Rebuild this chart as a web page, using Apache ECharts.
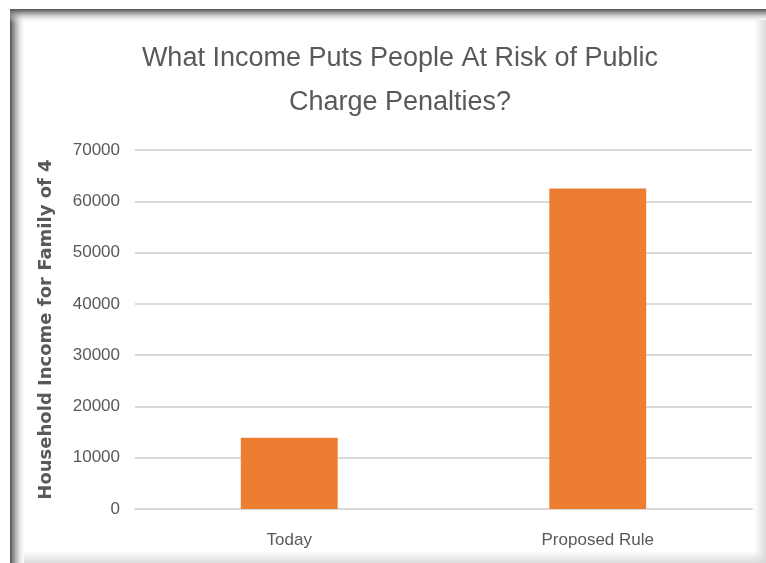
<!DOCTYPE html>
<html>
<head>
<meta charset="utf-8">
<script src="https://cdn.jsdelivr.net/npm/echarts@6/dist/echarts.min.js"></script>
<style>
  html, body { margin: 0; padding: 0; background: #ffffff; }
  #chart { width: 766px; height: 563px; }
</style>
</head>
<body>
<div id="chart"></div>
<script>
// Household income threshold for a family of four
const categories = ['Today', 'Proposed Rule'];
const incomeValues = [13900, 62500];
const yTicks = { min: 0, max: 70000, interval: 10000 };

const titleText = 'What Income Puts People At Risk of Public\nCharge Penalties?';
const yAxisTitle = 'Household Income for Family of 4';

const sans = '"Liberation Sans", Arial, sans-serif';
const textGray = '#595959';

const chart = echarts.init(document.getElementById('chart'), null, { renderer: 'canvas' });

chart.setOption({
  backgroundColor: '#ffffff',
  animation: false,
  title: {
    text: titleText,
    left: 395,
    top: 32,
    textAlign: 'center',
    textStyle: {
      fontFamily: sans,
      fontSize: 27,
      fontWeight: 'normal',
      color: textGray,
      lineHeight: 44
    }
  },
  grid: { left: 135, right: 14, top: 150, bottom: 54 },
  xAxis: {
    type: 'category',
    data: categories,
    axisLine: { show: true, lineStyle: { color: '#d9d9d9', width: 2 } },
    axisTick: { show: false },
    axisLabel: {
      margin: 23,
      fontFamily: sans,
      fontSize: 17,
      color: textGray
    }
  },
  yAxis: {
    type: 'value',
    min: yTicks.min,
    max: yTicks.max,
    interval: yTicks.interval,
    name: yAxisTitle,
    nameLocation: 'middle',
    nameGap: 80,
    nameTextStyle: {
      fontFamily: '"DejaVu Sans", sans-serif',
      fontSize: 18,
      fontWeight: 'bold',
      color: textGray
    },
    axisLine: { show: false },
    axisTick: { show: false },
    axisLabel: {
      margin: 15,
      fontFamily: sans,
      fontSize: 17,
      color: textGray,
      formatter: function (v) { return String(v); }
    },
    splitLine: { lineStyle: { color: '#d9d9d9', width: 2 } }
  },
  series: [{
    type: 'bar',
    data: incomeValues,
    barWidth: '31.4%',
    itemStyle: { color: '#ed7d31' }
  }],
  graphic: [
    // frame shading: dark left/top edges, soft right/bottom edges
    {
      type: 'rect', silent: true, z: 100,
      shape: { x: 10, y: 9, width: 16, height: 554 },
      style: {
        fill: new echarts.graphic.LinearGradient(0, 0, 1, 0, [
          { offset: 0, color: 'rgba(80,80,80,1)' },
          { offset: 0.3, color: 'rgba(140,140,140,0.8)' },
          { offset: 1, color: 'rgba(255,255,255,0)' }
        ])
      }
    },
    {
      type: 'rect', silent: true, z: 100,
      shape: { x: 10, y: 9, width: 756, height: 14 },
      style: {
        fill: new echarts.graphic.LinearGradient(0, 0, 0, 1, [
          { offset: 0, color: 'rgba(80,80,80,1)' },
          { offset: 0.3, color: 'rgba(140,140,140,0.8)' },
          { offset: 1, color: 'rgba(255,255,255,0)' }
        ])
      }
    },
    {
      type: 'rect', silent: true, z: 100,
      shape: { x: 754, y: 20, width: 12, height: 543 },
      style: {
        fill: new echarts.graphic.LinearGradient(0, 0, 1, 0, [
          { offset: 0, color: 'rgba(220,220,220,0)' },
          { offset: 1, color: 'rgba(215,215,215,0.9)' }
        ])
      }
    },
    {
      type: 'rect', silent: true, z: 100,
      shape: { x: 24, y: 551, width: 742, height: 12 },
      style: {
        fill: new echarts.graphic.LinearGradient(0, 0, 0, 1, [
          { offset: 0, color: 'rgba(220,220,220,0)' },
          { offset: 1, color: 'rgba(215,215,215,0.9)' }
        ])
      }
    }
  ]
});
</script>
</body>
</html>
